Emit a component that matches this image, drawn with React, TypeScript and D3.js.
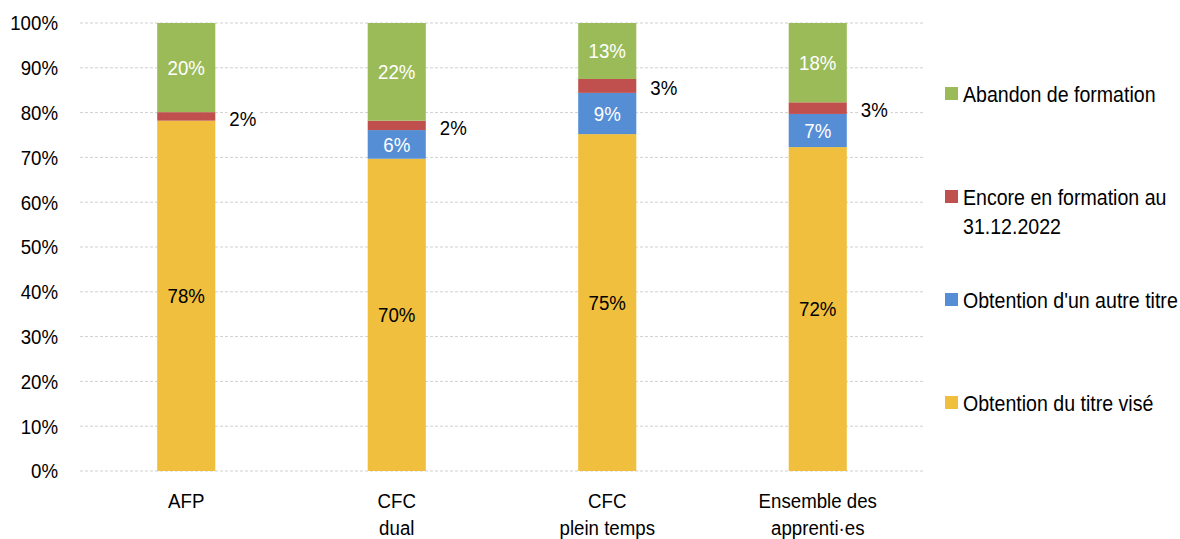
import React from "react";
import * as d3 from "d3";

const categories: string[][] = [["AFP"], ["CFC", "dual"], ["CFC", "plein temps"], ["Ensemble des", "apprenti·es"]];
const seriesNames = ["Obtention du titre visé", "Obtention d'un autre titre", "Encore en formation au 31.12.2022", "Abandon de formation"];
const legendLines: string[][] = [["Abandon de formation"], ["Encore en formation au", "31.12.2022"], ["Obtention d'un autre titre"], ["Obtention du titre visé"]];
const titreVise = [78.2, 69.7, 75.2, 72.3];
const autreTitre = [0, 6.4, 9.2, 7.4];
const encore = [1.9, 2.1, 3.1, 2.6];
const abandon = [19.9, 21.8, 12.5, 17.7];
const labelsTitre = ["78%", "70%", "75%", "72%"];
const labelsAutre = ["", "6%", "9%", "7%"];
const labelsEncore = ["2%", "2%", "3%", "3%"];
const labelsAbandon = ["20%", "22%", "13%", "18%"];
const yTicks = [0, 10, 20, 30, 40, 50, 60, 70, 80, 90, 100];

const colors = ["#EFBF3D", "#558ED5", "#C0504D", "#9BBB59"];
const FONT = "'Liberation Sans', Arial, sans-serif";
const SX = 0.89;

function NText(props: { x: number; y: number; anchor?: string; size: number; fill?: string; lines: string[]; lineH?: number; dy?: string }) {
  const { x, y, anchor = "start", size, fill = "#000", lines, lineH = 27, dy = "0" } = props;
  return (
    <g transform={`translate(${x},${y}) scale(${SX},1)`}>
      <text textAnchor={anchor} fontSize={size} fill={fill} fontFamily={FONT}>
        {lines.map((l, i) => (
          <tspan key={i} x={0} y={i * lineH} dy={dy}>{l}</tspan>
        ))}
      </text>
    </g>
  );
}

export default function App() {
  const W = 1180, H = 539;
  const x = d3.scaleBand<number>().domain(d3.range(categories.length)).range([81, 923]).paddingInner(0.724).paddingOuter(0.362);
  const y = d3.scaleLinear().domain([0, 100]).range([471, 23]);
  const labels = [labelsTitre, labelsAutre, labelsEncore, labelsAbandon];
  const rows = categories.map((_, i) => ({ i, s0: titreVise[i], s1: autreTitre[i], s2: encore[i], s3: abandon[i] }));
  const stack = d3.stack<any>().keys(["s0", "s1", "s2", "s3"])(rows);
  const legendY = [94, 197, 300, 403];
  const legendColor = [colors[3], colors[2], colors[1], colors[0]];
  return (
    <svg width={W} height={H} style={{ position: "absolute", left: 0, top: 0, background: "#fff" }} fontFamily={FONT}>
      {yTicks.map((t) => (
        <g key={t}>
          <line x1={80} x2={925} y1={y(t)} y2={y(t)} stroke="#d0d0d0" strokeWidth={1} strokeDasharray="3,2" />
          <NText x={58} y={y(t)} anchor="end" size={21} lines={[`${t}%`]} dy="0.35em" />
        </g>
      ))}
      {stack.map((layer, si) => (
        <g key={si}>
          {layer.map((d, ci) => {
            const y0 = y(d[0]), y1 = y(d[1]);
            const h = y0 - y1;
            if (h <= 0) return null;
            return <rect key={ci} x={x(ci)} y={y1} width={x.bandwidth()} height={h} fill={colors[si]} />;
          })}
        </g>
      ))}
      {stack.map((layer, si) => (
        <g key={"l" + si}>
          {layer.map((d, ci) => {
            const lab = labels[si][ci];
            if (!lab) return null;
            const cy = (y(d[0]) + y(d[1])) / 2;
            if (si === 2) {
              const lx = (x(ci) as number) + x.bandwidth() + 12;
              return (
                <g key={ci}>
                  <rect x={lx} y={cy - 12} width={32} height={26} fill="#fff" />
                  <NText x={lx + 2} y={cy + 2} size={21} lines={[lab]} dy="0.35em" />
                </g>
              );
            }
            return (
              <NText key={ci} x={(x(ci) as number) + x.bandwidth() / 2} y={cy} anchor="middle" size={21} fill={si === 0 ? "#000" : "#fff"} lines={[lab]} dy="0.35em" />
            );
          })}
        </g>
      ))}
      {categories.map((lines, ci) => (
        <NText key={ci} x={(x(ci) as number) + x.bandwidth() / 2} y={508} anchor="middle" size={21} lines={lines} lineH={27} />
      ))}
      {legendLines.map((lines, li) => (
        <g key={li}>
          <rect x={945} y={legendY[li] - 7} width={13} height={13} fill={legendColor[li]} />
          <NText x={963} y={legendY[li] + 8} size={22} lines={lines} lineH={29} />
        </g>
      ))}
    </svg>
  );
}
